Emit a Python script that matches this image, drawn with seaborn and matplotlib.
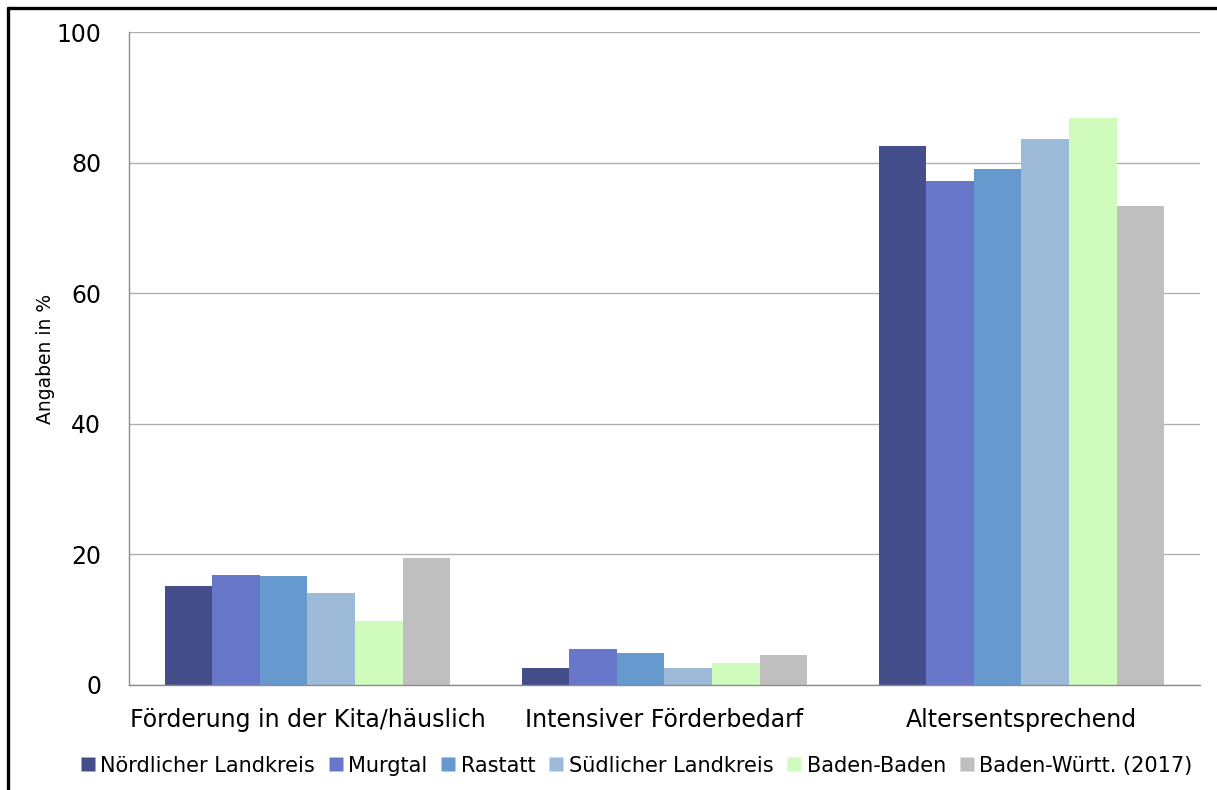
import pandas as pd
import matplotlib.pyplot as plt
import seaborn as sns
from matplotlib.lines import Line2D


sns.set_style("white")
plt.rcParams['font.family'] = ['DejaVu Sans']
plt.rcParams['text.color'] = 'black'
plt.rcParams['xtick.labelcolor'] = 'black'
plt.rcParams['ytick.labelcolor'] = 'black'
plt.rcParams['axes.labelcolor'] = 'black'


categories = ['Förderung in der Kita/häuslich', 'Intensiver Förderbedarf', 'Altersentsprechend']
regions = ['Nördlicher Landkreis', 'Murgtal', 'Rastatt', 'Südlicher Landkreis',
           'Baden-Baden', 'Baden-Württ. (2017)']

nord = [15.1, 2.5, 82.6]
murgtal = [16.8, 5.5, 77.2]
rastatt = [16.6, 4.8, 79.0]
sued = [14.1, 2.5, 83.6]
baden_baden = [9.8, 3.3, 86.9]
bw_2017 = [19.4, 4.5, 73.4]

colors = ['#444E8A', '#6877C9', '#6699CD', '#9DBBD9', '#CFFCBD', '#BFBFBF']

series = [nord, murgtal, rastatt, sued, baden_baden, bw_2017]
rows = []
for name, vals in zip(regions, series):
    for cat, v in zip(categories, vals):
        rows.append({'Kategorie': cat, 'Region': name, 'Wert': v})
df = pd.DataFrame(rows)


fig = plt.figure(figsize=(12.17, 7.9), dpi=100)
ax = fig.add_axes([0.106, 0.1335, 0.880, 0.8254])

sns.barplot(data=df, x='Kategorie', y='Wert', hue='Region', order=categories,
            hue_order=regions, palette=colors, width=0.8, saturation=1,
            edgecolor='none', ax=ax, legend=False)

ax.set_xlim(-0.5, 2.5)
ax.set_ylim(0, 100)
ax.set_yticks([0, 20, 40, 60, 80, 100])
ax.yaxis.grid(True, color='#B0B0B0', linewidth=1)
ax.set_axisbelow(True)

for side in ['top', 'right']:
    ax.spines[side].set_visible(False)
for side in ['left', 'bottom']:
    ax.spines[side].set_color('#8C8C8C')
    ax.spines[side].set_linewidth(1)

ax.tick_params(axis='y', direction='out', length=9, width=1, color='#8C8C8C',
               labelsize=17, pad=11)
ax.tick_params(axis='x', which='major', length=0, labelsize=17, pad=17)
ax.set_xticks([-0.5, 0.5, 1.5, 2.5], minor=True)
ax.tick_params(axis='x', which='minor', direction='out', length=8, width=1, color='#8C8C8C')

ax.set_xlabel('')
ax.set_ylabel('Angaben in %', fontsize=13.5, labelpad=1)

handles = [Line2D([], [], marker='s', linestyle='none', markersize=10,
                  markerfacecolor=c, markeredgecolor='none') for c in colors]
fig.legend(handles, regions, loc='center', bbox_to_anchor=(0.523, 0.031), ncol=6,
           frameon=False, fontsize=15, handlelength=0.7, handletextpad=0.25,
           columnspacing=0.65)

# Rahmen links und oben
fig.add_artist(Line2D([0.0062, 0.0062], [0, 0.9905], transform=fig.transFigure,
                      color='black', linewidth=2.4))
fig.add_artist(Line2D([0.0062, 1.0], [0.9905, 0.9905], transform=fig.transFigure,
                      color='black', linewidth=2.4))

fig.savefig('out.png', dpi=100)
